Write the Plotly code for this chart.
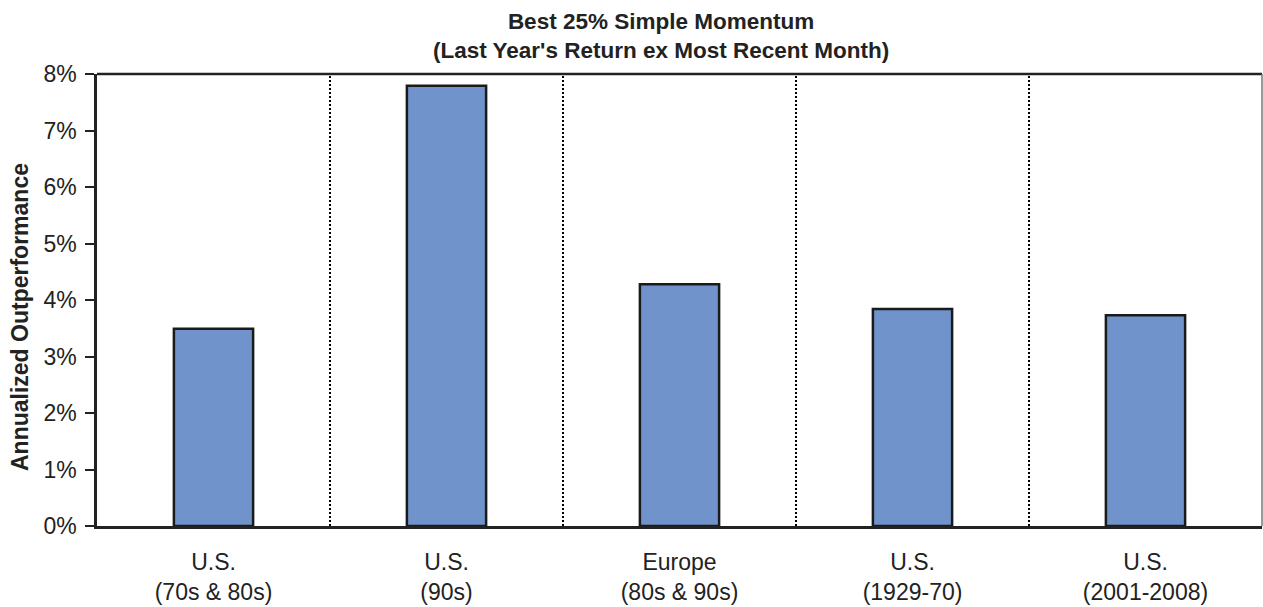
import plotly.graph_objects as go

categories = ["U.S.<br>(70s & 80s)", "U.S.<br>(90s)", "Europe<br>(80s & 90s)", "U.S.<br>(1929-70)", "U.S.<br>(2001-2008)"]
values = [3.49, 7.79, 4.28, 3.84, 3.73]
y_ticks = [0, 1, 2, 3, 4, 5, 6, 7, 8]
y_tick_labels = ["0%", "1%", "2%", "3%", "4%", "5%", "6%", "7%", "8%"]

FONT = "Liberation Sans, Arial, sans-serif"
INK = "#222222"

fig = go.Figure()
fig.add_trace(go.Bar(
    x=list(range(len(categories))), y=values,
    width=0.34,
    marker=dict(color="#7193CB", line=dict(color="#1a1a1a", width=2.5)),
    hoverinfo="skip",
))

shapes = []
for i in range(1, len(categories)):
    shapes.append(dict(type="line", xref="x", yref="paper", x0=i - 0.5, x1=i - 0.5, y0=0, y1=1,
                       line=dict(color="black", width=2, dash="2px,2px")))
shapes.append(dict(type="line", xref="paper", yref="paper", x0=0, x1=1, y0=1, y1=1,
                   line=dict(color=INK, width=2.5)))
shapes.append(dict(type="line", xref="paper", yref="paper", x0=1, x1=1, y0=0, y1=1,
                   line=dict(color="#777777", width=1.5)))

fig.update_layout(
    width=1263, height=607,
    margin=dict(l=97, r=1, t=74, b=81),
    paper_bgcolor="white", plot_bgcolor="white",
    showlegend=False,
    font=dict(family=FONT, color=INK, size=23),
    title=dict(text="<b>Best 25% Simple Momentum<br>(Last Year's Return ex Most Recent Month)</b>",
               x=0.5234, xanchor="center", xref="container",
               y=1 - 28.5 / 607, yanchor="middle", yref="container",
               font=dict(family=FONT, size=22.5, color=INK)),
    xaxis=dict(range=[-0.5, len(categories) - 0.5], tickmode="array",
               tickvals=list(range(len(categories))), ticktext=categories,
               showline=True, linecolor=INK, linewidth=2.5, ticks="",
               ticklabelstandoff=14,
               showgrid=False, zeroline=False, fixedrange=True,
               tickfont=dict(size=23, family=FONT, color=INK)),
    yaxis=dict(range=[0, 8], tickmode="array", tickvals=y_ticks, ticktext=y_tick_labels,
               showline=True, linecolor=INK, linewidth=2.5, ticks="outside",
               ticklen=9, tickwidth=2, tickcolor=INK, showgrid=False, zeroline=False,
               ticklabelstandoff=4, fixedrange=True,
               tickfont=dict(size=23, family=FONT, color=INK)),
    annotations=[dict(text="<b>Annualized Outperformance</b>", textangle=-90,
                      xref="paper", yref="paper", x=(20 - 97) / 1165, y=(526 - 317) / 452,
                      xanchor="center", yanchor="middle", showarrow=False,
                      font=dict(size=23, family=FONT, color=INK))],
    shapes=shapes,
)

fig.write_html("out.html", config={"displayModeBar": False},
               post_script="document.body.style.margin='0';document.body.style.overflow='hidden';")
